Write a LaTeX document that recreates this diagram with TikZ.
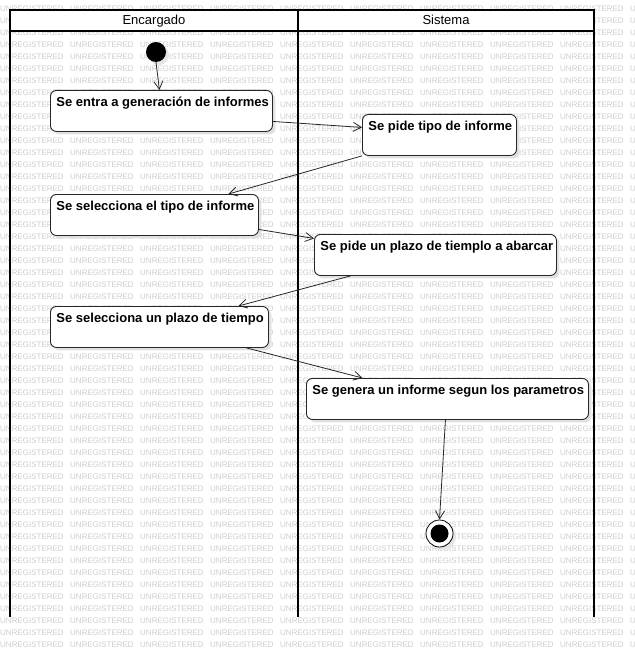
\documentclass[tikz,border=0pt]{standalone}
\usepackage{fontspec}
\setmainfont{Liberation Sans}
\usetikzlibrary{arrows.meta,shadows}
\newcommand\acttxt[2]{\makebox[#1pt][l]{#2}}
\begin{document}
\begin{tikzpicture}[x=1pt,y=-1pt,
 wm/.style={font=\fontsize{8}{8}\selectfont, text=black!20, inner sep=0pt, anchor=west},
 lane/.style={draw=black, line width=1.8pt},
 hdr/.style={font=\fontsize{13}{15}\selectfont, anchor=base, inner sep=0pt},
 actbox/.style={draw=black!85, line width=0.9pt, rounded corners=6pt, fill=white, anchor=north west,
   inner xsep=6pt, inner ysep=0pt, text height=16.5pt, text depth=24.5pt,
   font=\bfseries\fontsize{13}{15}\selectfont,
   drop shadow={shadow xshift=3pt, shadow yshift=-3pt, fill=black!12, opacity=1}},
 flow/.style={draw=black!85, line width=0.8pt, -{Straight Barb[length=8pt,width=9pt]}},
]
\useasboundingbox (0,0) rectangle (634,658);
\begin{scope}
\clip (0,0) rectangle (634,658);
\foreach \r in {0,...,53}{\foreach \c in {0,...,9}{\node[wm] (wm-\r-\c) at (70*\c, 9+12*\r) {UNREGISTERED};}}
\end{scope}
% swimlanes
\fill[white] (10,10) rectangle (594,31);
\draw[lane] (10,617) -- (10,10) -- (594,10) -- (594,617);
\draw[lane] (298,10) -- (298,617);
\draw[lane] (10,31) -- (594,31);
\node[hdr] (h1) at (154,24.5) {Encargado};
\node[hdr] (h2) at (446,24.5) {Sistema};
% nodes
\node[circle, fill=black, minimum size=20pt, inner sep=0pt,
  drop shadow={shadow xshift=3pt, shadow yshift=-3pt, fill=black!10, opacity=1}] (init) at (156,52) {};
\node[actbox] (b1) at (50,90) {\acttxt{210}{Se entra a generación de informes}};
\node[actbox] (b2) at (362,114) {\acttxt{142}{Se pide tipo de informe}};
\node[actbox] (b3) at (50,194) {\acttxt{196}{Se selecciona el tipo de informe}};
\node[actbox] (b4) at (314,234) {\acttxt{230}{Se pide un plazo de tiemplo a abarcar}};
\node[actbox] (b5) at (50,306) {\acttxt{206}{Se selecciona un plazo de tiempo}};
\node[actbox] (b6) at (306,378) {\acttxt{270}{Se genera un informe segun los parametros}};
\node[circle, draw=black, fill=white, minimum size=27pt, inner sep=0pt, line width=0.8pt,
  drop shadow={shadow xshift=3pt, shadow yshift=-3pt, fill=black!10, opacity=1}] (final) at (439.5,533.5) {};
\node[circle, fill=black, minimum size=18pt, inner sep=0pt] (finaldot) at (final.center) {};
% flows
\draw[flow] (init.south) -- ([xshift=-2pt]b1.north);
\draw[flow] ([yshift=-10.5pt]b1.east) -- ([yshift=7.5pt]b2.west);
\draw[flow] (b2.south west) -- ([xshift=74pt]b3.north);
\draw[flow] ([yshift=-14.5pt]b3.east) -- ([yshift=16.5pt]b4.west);
\draw[flow] ([xshift=-85pt]b4.south) -- ([xshift=79pt]b5.north);
\draw[flow] ([xshift=87pt]b5.south) -- ([xshift=-85pt]b6.north);
\draw[flow] ([xshift=-2pt]b6.south) -- (final.north);
\end{tikzpicture}
\end{document}
